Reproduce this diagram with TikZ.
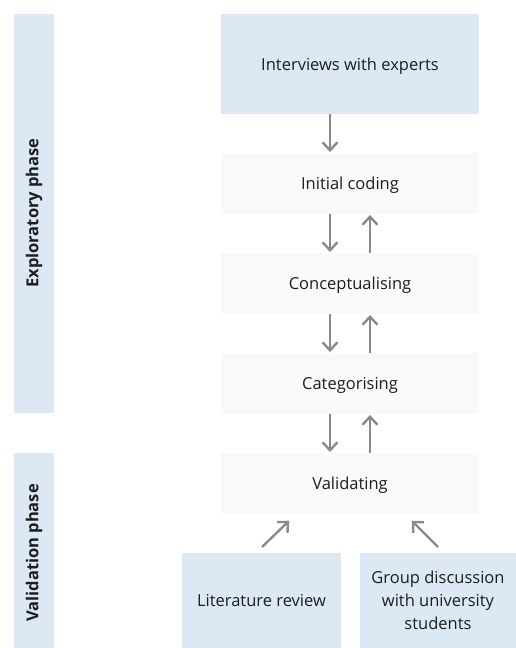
\documentclass[tikz,border=0pt]{standalone}
\usepackage{fontspec}
\setmainfont{Open Sans}
\usetikzlibrary{arrows.meta}
\definecolor{phaseblue}{HTML}{DCE8F4}
\definecolor{stepgrey}{HTML}{F8F9FB}
\definecolor{arrowgrey}{HTML}{8A8A8A}
\definecolor{textdark}{HTML}{1E1E1E}
\tikzset{
  box/.style={inner sep=0pt, outer sep=0pt, text=textdark, text depth=0pt, font=\fontsize{16.5}{23}\selectfont, align=center},
  srcbox/.style={box, fill=phaseblue},
  stepbox/.style={box, fill=stepgrey},
  phasebar/.style={fill=phaseblue, inner sep=0pt, outer sep=0pt},
  phaselabel/.style={rotate=90, text=textdark, font=\fontsize{16.5}{20}\selectfont\bfseries},
  flow/.style={draw=arrowgrey, line width=2.4pt, -{Straight Barb[length=8pt,width=15pt,line width=2.4pt]}, shorten >=1pt},
}
\begin{document}
\begin{tikzpicture}[x=1pt, y=-1pt]
\useasboundingbox (0,0) rectangle (516,648);
% phase bars
\fill[phasebar] (14,14) rectangle (54,413);
\fill[phasebar] (14,453) rectangle (54,648);
\node[phaselabel] (lexp) at (34,213) {Exploratory phase};
\node[phaselabel] (lval) at (34,553) {Validation phase};
% process boxes
\node[srcbox, minimum width=258pt, minimum height=100pt] (interviews) at (350,64) {Interviews with experts};
\node[stepbox, minimum width=258pt, minimum height=61pt] (coding) at (350,183.5) {Initial coding};
\node[stepbox, minimum width=258pt, minimum height=61pt] (concept) at (350,283.5) {Conceptualising};
\node[stepbox, minimum width=258pt, minimum height=61pt] (categ) at (350,383.5) {Categorising};
\node[stepbox, minimum width=258pt, minimum height=61pt] (valid) at (350,483.5) {Validating};
\node[srcbox, minimum width=159pt, minimum height=95pt] (lit) at (261.5,600.5) {Literature review};
\node[srcbox, minimum width=156pt, minimum height=95pt] (group) at (438,600.5) {Group discussion\\with university\\students};
% arrows between the steps: down on the left, back up on the right
\draw[flow] ([xshift=-20pt]interviews.south) -- ([xshift=-20pt]coding.north);
\foreach \a/\b in {coding/concept, concept/categ, categ/valid}{
  \draw[flow] ([xshift=-20pt]\a.south) -- ([xshift=-20pt]\b.north);
  \draw[flow] ([xshift=20pt]\b.north) -- ([xshift=20pt]\a.south);
}
% sources feeding the validation
\coordinate (litout) at (262,547);
\coordinate (litin) at (290,520);
\coordinate (grpout) at (438,547);
\coordinate (grpin) at (411,520);
\draw[flow] (litout) -- (litin);
\draw[flow] (grpout) -- (grpin);
\end{tikzpicture}
\end{document}
